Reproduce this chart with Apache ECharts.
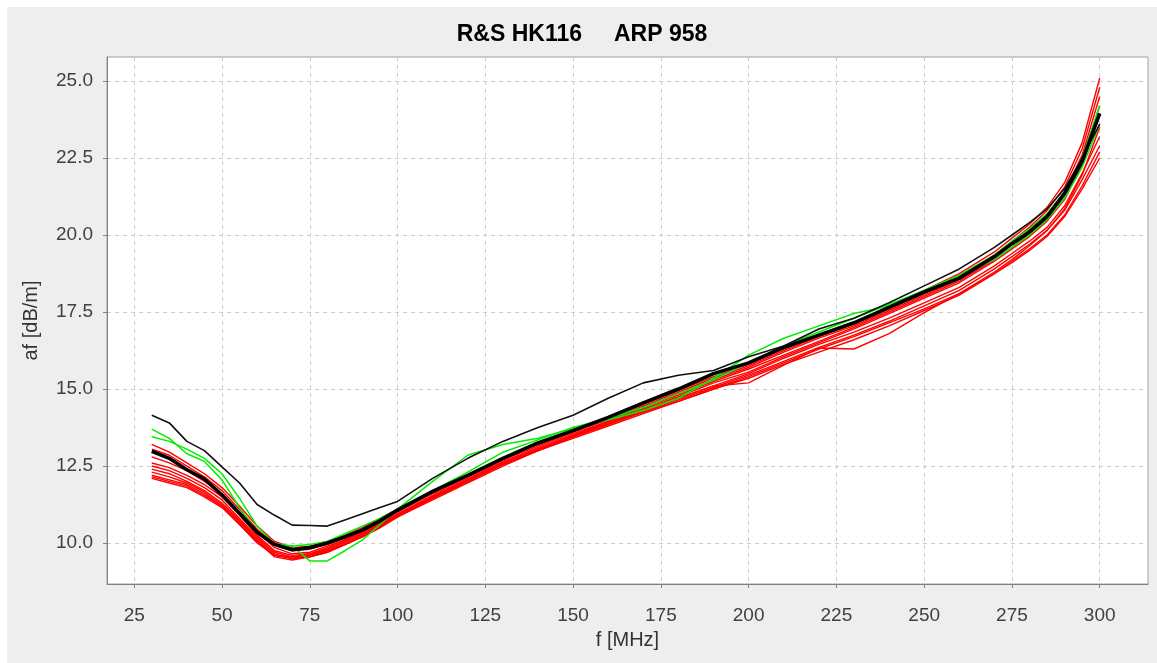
<!DOCTYPE html>
<html>
<head>
<meta charset="utf-8">
<script src="https://cdn.jsdelivr.net/npm/echarts@6/dist/echarts.min.js"></script>
<style>
html, body {
  margin: 0;
  background: #fff;
}
.chart {
  position: absolute;
  left: 7px;
  top: 7px;
  width: 1150px;
  height: 656px;
  background: #eeeeee;
}
</style>
</head>
<body>
<div id="chart" class="chart"></div>
<script>
const freq = [30, 35, 40, 45, 50, 55, 60, 65, 70, 75, 80, 85, 90, 95, 100, 110, 120, 130, 140, 150,
  160, 170, 180, 190, 200, 210, 220, 230, 240, 250, 260, 270, 275, 280, 285, 290, 295, 300]

const xTicks = [25, 50, 75, 100, 125, 150, 175, 200, 225, 250, 275, 300]
const yTicks = [10.0, 12.5, 15.0, 17.5, 20.0, 22.5, 25.0]

// einzelne Messungen (rot)
const red1 = [13.2, 12.95, 12.6, 12.25, 11.8, 11.2, 10.55, 10.05, 9.85, 9.9, 10.05, 10.25, 10.5, 10.8, 11.1, 11.65, 12.2, 12.75, 13.2, 13.6, 14.05, 14.5, 14.95, 15.4, 15.8, 16.3, 16.75, 17.15, 17.65, 18.2, 18.75, 19.45, 19.9, 20.35, 20.9, 21.7, 23.0, 25.1]
const red2 = [13.05, 12.85, 12.5, 12.15, 11.7, 11.1, 10.45, 9.95, 9.75, 9.8, 9.95, 10.15, 10.4, 10.7, 11.0, 11.6, 12.15, 12.7, 13.15, 13.6, 14.0, 14.45, 14.9, 15.35, 15.75, 16.25, 16.7, 17.1, 17.6, 18.1, 18.65, 19.35, 19.8, 20.25, 20.8, 21.55, 22.8, 24.8]
const red3 = [12.8, 12.6, 12.35, 12.0, 11.6, 11.0, 10.35, 9.85, 9.65, 9.7, 9.9, 10.1, 10.35, 10.65, 10.95, 11.55, 12.1, 12.65, 13.1, 13.55, 13.95, 14.4, 14.85, 15.3, 15.7, 16.2, 16.65, 17.05, 17.55, 18.05, 18.55, 19.25, 19.7, 20.15, 20.65, 21.4, 22.6, 24.5]
const red4 = [12.6, 12.45, 12.2, 11.9, 11.5, 10.9, 10.25, 9.75, 9.6, 9.65, 9.8, 10.05, 10.3, 10.6, 10.9, 11.5, 12.05, 12.6, 13.05, 13.5, 13.95, 14.4, 14.8, 15.25, 15.65, 16.1, 16.55, 17.0, 17.5, 18.0, 18.5, 19.2, 19.6, 20.05, 20.55, 21.3, 22.45, 24.2]
const red5 = [12.5, 12.35, 12.1, 11.8, 11.4, 10.8, 10.2, 9.7, 9.55, 9.6, 9.75, 9.95, 10.25, 10.55, 10.85, 11.45, 12.0, 12.55, 13.0, 13.45, 13.9, 14.35, 14.75, 15.2, 15.55, 16.05, 16.5, 16.95, 17.45, 17.95, 18.45, 19.15, 19.55, 19.95, 20.45, 21.15, 22.3, 23.9]
const red6 = [12.4, 12.25, 12.0, 11.7, 11.3, 10.75, 10.15, 9.65, 9.5, 9.55, 9.7, 9.95, 10.2, 10.5, 10.85, 11.45, 12.0, 12.55, 13.0, 13.45, 13.85, 14.3, 14.7, 15.1, 15.2, 15.78, 16.33, 16.3, 16.8, 17.48, 18.1, 18.8, 19.2, 19.65, 20.15, 20.85, 21.95, 23.5]
const red7 = [12.3, 12.15, 11.95, 11.65, 11.25, 10.7, 10.1, 9.6, 9.5, 9.55, 9.75, 10.0, 10.25, 10.55, 10.9, 11.5, 12.05, 12.6, 13.05, 13.5, 13.9, 14.3, 14.7, 15.1, 15.5, 16.0, 16.45, 16.85, 17.3, 17.8, 18.3, 19.0, 19.4, 19.8, 20.25, 20.95, 22.0, 23.2]
const red8 = [12.2, 12.05, 11.9, 11.6, 11.2, 10.65, 10.05, 9.55, 9.45, 9.55, 9.7, 9.95, 10.2, 10.5, 10.85, 11.4, 11.95, 12.5, 13.0, 13.45, 13.85, 14.25, 14.65, 15.05, 15.45, 15.9, 16.35, 16.75, 17.2, 17.7, 18.2, 18.9, 19.3, 19.7, 20.15, 20.8, 21.8, 22.9]
const red9 = [12.15, 12.0, 11.85, 11.55, 11.2, 10.6, 10.05, 9.6, 9.5, 9.6, 9.8, 10.05, 10.3, 10.6, 10.9, 11.45, 12.0, 12.55, 13.0, 13.4, 13.8, 14.2, 14.6, 15.0, 15.35, 15.8, 16.2, 16.6, 17.05, 17.55, 18.05, 18.75, 19.15, 19.55, 20.0, 20.65, 21.6, 22.7]
const red10 = [12.1, 11.95, 11.8, 11.5, 11.15, 10.6, 10.0, 9.6, 9.55, 9.65, 9.85, 10.1, 10.35, 10.65, 10.95, 11.5, 12.05, 12.6, 13.05, 13.45, 13.85, 14.25, 14.6, 15.0, 15.4, 15.85, 16.3, 16.7, 17.15, 17.6, 18.1, 18.75, 19.1, 19.5, 19.95, 20.6, 21.5, 22.5]

const greenA = [13.7, 13.4, 12.9, 12.65, 12.05, 11.15, 10.35, 9.98, 9.9, 9.42, 9.42, 9.75, 10.1, 10.6, 11.1, 12.0, 12.85, 13.2, 13.4, 13.72, 14.0, 14.3, 14.7, 15.35, 16.1, 16.65, 17.05, 17.45, 17.7, 18.2, 18.7, 19.35, 19.8, 20.2, 20.7, 21.4, 22.5, 24.2]
const greenB = [13.45, 13.3, 13.05, 12.75, 12.25, 11.45, 10.55, 9.95, 9.9, 9.95, 10.05, 10.3, 10.55, 10.8, 11.1, 11.7, 12.3, 12.95, 13.35, 13.75, 14.05, 14.4, 14.85, 15.3, 15.85, 16.4, 16.85, 17.3, 17.75, 18.2, 18.65, 19.2, 19.6, 20.0, 20.5, 21.2, 22.2, 23.6]

const blackHigh = [14.15, 13.9, 13.3, 13.0, 12.47, 11.95, 11.25, 10.9, 10.58, 10.57, 10.55, 10.75, 10.95, 11.15, 11.35, 12.1, 12.75, 13.3, 13.75, 14.15, 14.7, 15.2, 15.45, 15.6, 16.05, 16.4, 16.95, 17.3, 17.8, 18.35, 18.9, 19.6, 20.0, 20.4, 20.85, 21.5, 22.5, 23.6]

// Mittelwert (dicke schwarze Linie)
const mean = [12.98, 12.75, 12.38, 12.08, 11.56, 10.97, 10.35, 9.95, 9.78, 9.85, 10.0, 10.2, 10.42, 10.72, 11.07, 11.68, 12.2, 12.75, 13.25, 13.65, 14.08, 14.55, 15.0, 15.5, 15.85, 16.35, 16.75, 17.15, 17.65, 18.15, 18.6, 19.3, 19.72, 20.1, 20.6, 21.35, 22.4, 23.95]

const reds = [red1, red2, red3, red4, red5, red6, red7, red8, red9, red10]

function toPoints(values) {
  return freq.map((f, i) => [f, values[i]])
}

function lineSeries(values, color, width) {
  return {
    type: 'line',
    data: toPoints(values),
    showSymbol: false,
    symbol: 'none',
    lineStyle: { color: color, width: width },
    silent: true,
    animation: false
  }
}

const myChart = echarts.init(document.getElementById('chart'))

const series = []
reds.forEach(r => series.push(lineSeries(r, '#ff0000', 1.4)))
series.push(lineSeries(greenA, '#00ee00', 1.5))
series.push(lineSeries(greenB, '#00ee00', 1.5))
series.push(lineSeries(blackHigh, '#111111', 1.6))
series.push(lineSeries(mean, '#000000', 3.6))

const option = {
  animation: false,
  title: {
    text: 'R&S HK116     ARP 958',
    left: 'center',
    top: 11,
    textStyle: {
      fontFamily: 'Liberation Sans',
      fontSize: 23,
      fontWeight: 'bold',
      color: '#000'
    }
  },
  grid: {
    left: 100,
    right: 9,
    top: 50,
    bottom: 79,
    show: true,
    backgroundColor: '#fff',
    borderColor: '#a0a0a0',
    borderWidth: 1
  },
  xAxis: {
    type: 'value',
    min: 17.25,
    max: 313.75,
    minInterval: 25,
    maxInterval: 25,
    name: 'f [MHz]',
    nameLocation: 'middle',
    nameGap: 46,
    nameTextStyle: { fontFamily: 'Liberation Sans', fontSize: 20, color: '#333' },
    axisLine: { lineStyle: { color: '#808080' } },
    axisTick: { length: 4, lineStyle: { color: '#808080' } },
    axisLabel: {
      margin: 22,
      fontFamily: 'Liberation Sans',
      fontSize: 19,
      color: '#404040',
      showMinLabel: false,
      showMaxLabel: false,
      formatter: v => (xTicks.includes(v) ? String(v) : '')
    },
    splitLine: { lineStyle: { color: '#cccccc', type: [4, 4] } }
  },
  yAxis: {
    type: 'value',
    min: 8.67,
    max: 25.78,
    minInterval: 2.5,
    maxInterval: 2.5,
    name: 'af [dB/m]',
    nameLocation: 'middle',
    nameGap: 66,
    nameTextStyle: { fontFamily: 'Liberation Sans', fontSize: 20, color: '#333' },
    axisLine: { show: true, lineStyle: { color: '#808080' } },
    axisTick: { show: true, length: 4, lineStyle: { color: '#808080' } },
    axisLabel: {
      margin: 14,
      fontFamily: 'Liberation Sans',
      fontSize: 19,
      color: '#404040',
      showMinLabel: false,
      showMaxLabel: false,
      formatter: v => (yTicks.includes(v) ? v.toFixed(1) : '')
    },
    splitLine: { lineStyle: { color: '#cccccc', type: [4, 4] } }
  },
  series: series
}

myChart.setOption(option)
</script>
</body>
</html>
